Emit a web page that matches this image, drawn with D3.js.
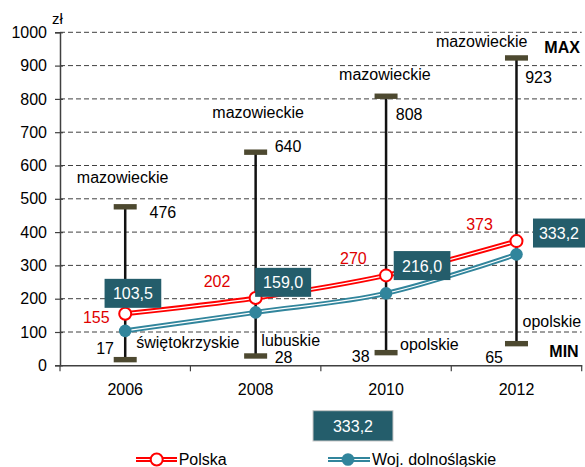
<!DOCTYPE html>
<html><head><meta charset="utf-8">
<script src="https://cdn.jsdelivr.net/npm/d3@7/dist/d3.min.js"></script>
<style>body{margin:0;background:#fff}svg{display:block;font-family:"Liberation Sans",Arial,sans-serif}</style>
</head><body>
<svg id="c" width="585" height="467"></svg>
<script>
const years = ["2006","2008","2010","2012"];
const polska = [155, 202, 270, 373];
const dolnoslaskie = [103.5, 159.0, 216.0, 333.2];
const maxValues = [476, 640, 808, 923];
const maxRegions = ["mazowieckie","mazowieckie","mazowieckie","mazowieckie"];
const minValues = [17, 28, 38, 65];
const minRegions = ["świętokrzyskie","lubuskie","opolskie","opolskie"];
const yTicks = [0,100,200,300,400,500,600,700,800,900,1000];
const seriesNames = ["Polska","Woj. dolnośląskie"];

const fmt = v => d3.format(".1f")(v).replace(".", ",");

const svg = d3.select("#c");
const W = 585, H = 467;
const m = {l:60, r:3.3, t:32.3, b:101.7};
const x = d3.scaleBand().domain(years).range([m.l, W - m.r]);
const y = d3.scaleLinear().domain([0,1000]).range([H - m.b, m.t]);
const cx = d => x(d) + x.bandwidth()/2;

// gridlines
svg.append("g").selectAll("line").data(yTicks.filter(t=>t>0)).join("line")
  .attr("x1", m.l).attr("x2", W - m.r).attr("y1", d=>y(d)).attr("y2", d=>y(d))
  .attr("stroke", "#404040").attr("stroke-width", 1).attr("stroke-dasharray", "5,3");

// y axis
const ya = svg.append("g").attr("transform", `translate(${m.l},0)`)
  .call(d3.axisLeft(y).tickValues(yTicks).tickSize(5).tickPadding(8).tickFormat(d3.format("d")));
ya.select(".domain").attr("stroke", "#404040").attr("stroke-width", 1.5);
ya.selectAll(".tick line").attr("stroke", "#404040").attr("stroke-width", 1.2).attr("x2", 3).attr("x1", -5);
ya.selectAll("text").attr("font-size", 16).attr("fill", "#000").attr("font-family", "Liberation Sans, Arial, sans-serif");

// x axis
const xa = svg.append("g").attr("transform", `translate(0,${y(0)})`)
  .call(d3.axisBottom(x).tickSize(0).tickPadding(18.3));
xa.select(".domain").attr("stroke", "#404040").attr("stroke-width", 1.5);
xa.selectAll("text").attr("font-size", 16).attr("fill", "#000").attr("font-family", "Liberation Sans, Arial, sans-serif");
const bounds = years.map(d => x(d)).concat([W - m.r]);
svg.append("g").selectAll("line").data(bounds).join("line")
  .attr("x1", d=>d).attr("x2", d=>d).attr("y1", y(0)).attr("y2", y(0)+6)
  .attr("stroke", "#404040").attr("stroke-width", 1.2);

svg.append("text").attr("x", 52).attr("y", 23.5).attr("font-size", 15).text("zł");

// error bars
const eb = svg.append("g");
years.forEach((yr,i) => {
  eb.append("line").attr("x1", cx(yr)).attr("x2", cx(yr))
    .attr("y1", y(minValues[i])).attr("y2", y(maxValues[i]))
    .attr("stroke", "#111").attr("stroke-width", 2.5);
  [maxValues[i], minValues[i]].forEach(v => {
    eb.append("rect").attr("x", cx(yr)-11.5).attr("y", y(v)-2.7)
      .attr("width", 23).attr("height", 5.4).attr("fill", "#4d4930");
  });
});

// lines
const line = d3.line().x((d,i)=>cx(years[i])).y(d=>y(d)).curve(d3.curveCatmullRom.alpha(0.5));
[[polska,"#ff0000"],[dolnoslaskie,"#31859c"]].forEach(([data,col]) => {
  svg.append("path").attr("d", line(data)).attr("fill","none").attr("stroke",col).attr("stroke-width",5);
  svg.append("path").attr("d", line(data)).attr("fill","none").attr("stroke","#fff").attr("stroke-width",1.2);
});
svg.append("g").selectAll("circle").data(dolnoslaskie).join("circle")
  .attr("cx",(d,i)=>cx(years[i])).attr("cy",d=>y(d)).attr("r",6.3).attr("fill","#31859c");
svg.append("g").selectAll("circle").data(polska).join("circle")
  .attr("cx",(d,i)=>cx(years[i])).attr("cy",d=>y(d)).attr("r",6).attr("fill","#fff")
  .attr("stroke","#ff0000").attr("stroke-width",2);

// text labels (layout offsets relative to bar centre / value)
const T = svg.append("g").attr("font-size", 16).attr("fill", "#000");
const maxLab = [{dx:-48.4,dy:-23.3},{dx:-43.3,dy:-33.9},{dx:-47,dy:-16.2},{dx:-80.6,dy:-11.2}];
const maxVal = [{dx:24.3,dy:10.9},{dx:19,dy:-0.5},{dx:9.7,dy:23.8},{dx:8.7,dy:25.4}];
const minLab = [{dx:11,dy:-11.3},{dx:5.7,dy:-10.3},{dx:14,dy:-2.6},{dx:6,dy:-17}];
const minVal = [{dx:-29,dy:-5.6},{dx:19,dy:6.7},{dx:-34.3,dy:9.1},{dx:-31.3,dy:19}];
years.forEach((yr,i) => {
  const c = cx(yr);
  T.append("text").attr("x", c+maxLab[i].dx).attr("y", y(maxValues[i])+maxLab[i].dy).text(maxRegions[i]);
  T.append("text").attr("x", c+maxVal[i].dx).attr("y", y(maxValues[i])+maxVal[i].dy).text(maxValues[i]);
  T.append("text").attr("x", c+minLab[i].dx).attr("y", y(minValues[i])+minLab[i].dy).text(minRegions[i]);
  T.append("text").attr("x", c+minVal[i].dx).attr("y", y(minValues[i])+minVal[i].dy).text(minValues[i]);
});
T.append("text").attr("x", 544.3).attr("y", 53.3).attr("font-weight","bold").text("MAX");
T.append("text").attr("x", 549.3).attr("y", 356.7).attr("font-weight","bold").text("MIN");

// Polska value labels
const polLab = [{dx:-42.3,dy:9},{dx:-52,dy:-11.5},{dx:-46,dy:-11.5},{dx:-50.3,dy:-11.5}];
svg.append("g").selectAll("text").data(polska).join("text")
  .attr("x",(d,i)=>cx(years[i])+polLab[i].dx).attr("y",(d,i)=>y(d)+polLab[i].dy)
  .attr("font-size",16).attr("fill","#e00000").text(d=>d);

// Dolnośląskie value boxes
const boxOff = [{dx:7.7,dy:-37.5},{dx:27.5,dy:-30},{dx:36,dy:-27.8},{dx:42.5,dy:-21.3}];
const bw = [56.7, 56, 56.7, 52];
const bg = svg.append("g");
dolnoslaskie.forEach((v,i) => {
  const bx = cx(years[i]) + boxOff[i].dx, by = y(v) + boxOff[i].dy;
  bg.append("rect").attr("x", bx - bw[i]/2).attr("y", by - 14.5).attr("width", bw[i]).attr("height", 29)
    .attr("fill", "#245d6b");
  bg.append("text").attr("x", bx).attr("y", by + 6).attr("text-anchor","middle")
    .attr("font-size",16).attr("fill","#fff").text(fmt(v));
});
// standalone box
bg.append("rect").attr("x", 313).attr("y", 410.7).attr("width", 80).attr("height", 30.3)
  .attr("fill", "#245d6b").attr("stroke", "#c8c8c8").attr("stroke-width", 1);
bg.append("text").attr("x", 353).attr("y", 432).attr("text-anchor","middle")
  .attr("font-size",16).attr("fill","#fff").text(fmt(dolnoslaskie[3]));

// legend
const lg = svg.append("g");
const legendItems = [{x1:136,x2:177,c:156.7,tx:178.7,col:"#ff0000",fill:"#fff"},
                     {x1:328,x2:370,c:348,tx:372,col:"#31859c",fill:"#31859c"}];
legendItems.forEach((it,i) => {
  lg.append("line").attr("x1",it.x1).attr("x2",it.x2).attr("y1",459.5).attr("y2",459.5).attr("stroke",it.col).attr("stroke-width",5);
  lg.append("line").attr("x1",it.x1).attr("x2",it.x2).attr("y1",459.5).attr("y2",459.5).attr("stroke","#fff").attr("stroke-width",1.2);
  const circ = lg.append("circle").attr("cx",it.c).attr("cy",459.5).attr("r",6.3).attr("fill",it.fill);
  if (i===0) circ.attr("r",6).attr("stroke",it.col).attr("stroke-width",2);
  lg.append("text").attr("x",it.tx).attr("y",465).attr("font-size",16).text(seriesNames[i]);
});
</script>
</body></html>
